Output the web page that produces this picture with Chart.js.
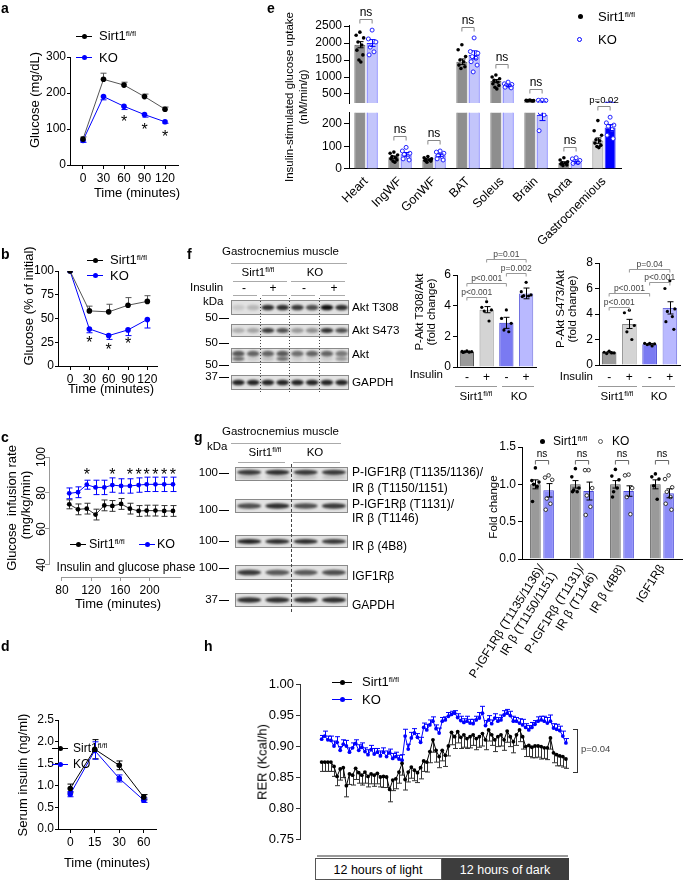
<!DOCTYPE html>
<html>
<head>
<meta charset="utf-8">
<script src="https://cdn.jsdelivr.net/npm/chart.js@4.4.0/dist/chart.umd.min.js"></script>
<style>
  body { margin: 0; width: 685px; height: 881px; position: relative; overflow: hidden; background: #fff;
         font-family: "Liberation Sans", Arial, sans-serif; }
  canvas.plein { position: absolute; left: 0; top: 0; }
  .t { position: absolute; white-space: nowrap; line-height: 1; color: #000; }
  sup { font-size: 62%; vertical-align: 0; position: relative; top: -0.55em; }
</style>
</head>
<body>
<script>
// === Données ===
// a : tolérance au glucose
const tA = [0, 30, 60, 90, 120];
const aSirt = [72, 238, 222, 190, 155];
const aSirtErr = [6, 17, 8, 7, 6];
const aKO = [68, 190, 163, 140, 120];
const aKOErr = [5, 9, 9, 7, 4];
const aTicksY = [0, 100, 200, 300];
const aStars = [60, 90, 120];

// b : tolérance à l'insuline
const tB = [0, 30, 60, 90, 120];
const bSirt = [100, 58, 57, 64, 68];
const bSirtErr = [0, 5, 8, 8, 6];
const bKO = [100, 39, 32, 38, 49];
const bKOErr = [0, 4, 4, 6, 9];
const bTicksY = [0, 25, 50, 75, 100];
const bStars = [30, 60, 90];

// c : clamp, débit de perfusion
const tC = [90, 102, 114, 126, 138, 149, 161, 173, 185, 196, 208, 220, 232];
const cSirt = [73.7, 70.9, 71.3, 68.0, 73.1, 72.8, 73.9, 71.3, 70.0, 70.2, 70.2, 70.0, 70.0];
const cSirtErr = [2.5, 3, 3, 3, 3, 3, 3, 3, 3, 3, 3, 3, 3];
const cKO = [79.8, 80.4, 84.6, 83.1, 83.1, 84.4, 83.9, 83.9, 84.4, 84.8, 84.8, 84.8, 84.8];
const cKOErr = [3, 3, 2.5, 4, 4, 4, 4, 4, 4, 4, 4, 4, 4];
const cTicksX = [80, 120, 160, 200];
const cTicksY = [40, 60, 80, 100];
const cStars = [114, 149, 173, 185, 196, 208, 220, 232];

// d : insuline sérique
const tD = ['0', '15', '30', '60'];
const dSirt = [0.93, 1.83, 1.46, 0.73];
const dSirtErr = [0.1, 0.22, 0.1, 0.06];
const dKO = [0.8, 1.8, 1.16, 0.66];
const dKOErr = [0.06, 0.2, 0.08, 0.05];
const dTicksY = [0, 0.5, 1.0, 1.5, 2.0, 2.5];

// e : captation du glucose
const eCats = ['Heart', 'IngWF', 'GonWF', 'BAT', 'Soleus', 'Brain', 'Aorta', 'Gastrocnemious'];
const eSirt = [1950, 52, 42, 1450, 880, 310, 28, 126];
const eKO = [2000, 65, 61, 1650, 740, 240, 30, 184];
const eSirtSem = [90, 6, 3, 80, 45, 10, 4, 12];
const eKOSem = [100, 8, 6, 120, 25, 25, 4, 13];
const eSirtDots = [
  [2320, 2230, 2150, 2030, 1940, 1790, 1650, 1500, 1440],
  [75, 70, 62, 55, 50, 45, 40, 35, 30],
  [55, 50, 45, 42, 40, 38, 35, 30],
  [1950, 1800, 1600, 1500, 1450, 1350, 1300, 1250],
  [1060, 1000, 950, 900, 850, 800, 750, 700, 650],
  [320, 315, 310, 305, 300, 300, 295],
  [50, 40, 32, 28, 25, 22, 18, 15],
  [215, 170, 150, 130, 125, 115, 105, 100, 95]
];
const eKODots = [
  [2380, 2120, 2030, 1880, 1740, 1650],
  [96, 80, 70, 65, 55, 45, 40],
  [80, 75, 70, 60, 55, 45, 40],
  [2150, 1750, 1700, 1600, 1550, 1450, 1350, 1150],
  [850, 800, 780, 750, 720, 700, 680],
  [320, 315, 310, 250, 240, 170],
  [50, 45, 38, 32, 28, 25],
  [230, 205, 195, 190, 175, 150, 135]
];
const eTicksHaut = [500, 1000, 1500, 2000, 2500];
const eTicksBas = [0, 100, 200];
const eStats = ['ns', 'ns', 'ns', 'ns', 'ns', 'ns', 'ns', 'p=0.02'];

// f : P-Akt
const fCats = ['-', '+', '-', '+'];
const f308 = [1.0, 3.74, 2.88, 4.8];
const f308Sem = [0.03, 0.2, 0.36, 0.35];
const f308Dots = [[1.05, 1.02, 1.0, 0.98, 0.97, 0.95], [4.26, 3.89, 3.72, 3.65, 3.0], [3.72, 3.17, 2.85, 2.41, 2.3], [5.52, 4.91, 4.7, 4.65, 4.63, 4.59]];
const f308Ticks = [0, 2, 4, 6];
const f473 = [1.0, 3.22, 1.63, 4.48];
const f473Sem = [0.05, 0.36, 0.06, 0.48];
const f473Dots = [[1.1, 1.0, 0.95, 0.9, 0.95], [4.3, 4.1, 3.1, 2.6, 2.0], [1.7, 1.7, 1.65, 1.6, 1.5], [6.6, 6.0, 4.4, 4.2, 3.8, 3.4, 2.8]];
const f473Ticks = [0, 2, 4, 6, 8];

// g : IGF1R / IR
const gCats = [['P-IGF1Rβ (T1135/1136)/', 'IR β (T1150/1151)'], ['P-IGF1Rβ (T1131)/', 'IR β (T1146)'], 'IR β (4B8)', 'IGF1Rβ'];
const gSirt = [1.0, 1.0, 1.0, 1.0];
const gSirtSem = [0.06, 0.05, 0.05, 0.06];
const gKO = [0.92, 0.91, 0.91, 0.88];
const gKOSem = [0.09, 0.12, 0.07, 0.06];
const gSirtDots = [[1.22, 1.05, 1.03, 1.0, 0.97, 0.77], [1.21, 1.1, 0.95, 0.92, 0.9, 0.9], [1.2, 1.11, 1.06, 0.9, 0.95, 0.83], [1.14, 1.1, 1.07, 0.98, 0.8]];
const gKODots = [[1.12, 1.09, 1.06, 0.81, 0.74, 0.66], [1.19, 1.19, 0.95, 0.85, 0.7, 0.59], [1.13, 1.12, 0.95, 0.83, 0.6], [1.12, 1.07, 0.96, 0.9, 0.83, 0.74, 0.66]];
const gTicks = [0, 0.5, 1.0, 1.5];

// h : RER sur 24 h
const hSirt = [
  0.874, 0.874, 0.874, 0.874, 0.867, 0.851, 0.863, 0.865, 0.836, 0.855,
  0.853, 0.864, 0.857, 0.853, 0.858, 0.851, 0.855, 0.853, 0.856, 0.850,
  0.851, 0.850, 0.830, 0.845, 0.847, 0.858, 0.872, 0.846, 0.858, 0.866,
  0.861, 0.857, 0.865, 0.876, 0.874, 0.891, 0.910, 0.893, 0.883, 0.893,
  0.885, 0.900, 0.922, 0.915, 0.923, 0.914, 0.918, 0.912, 0.915, 0.918,
  0.912, 0.915, 0.920, 0.910, 0.926, 0.918, 0.910, 0.915, 0.918, 0.910,
  0.924, 0.915, 0.907, 0.918, 0.926, 0.915, 0.899, 0.901, 0.898, 0.900,
  0.900, 0.899, 0.897, 0.897, 0.913, 0.889, 0.886, 0.884, 0.883, 0.879
];
const hSirtErr = [
  0.015, 0.015, 0.015, 0.015, 0.016, 0.015, 0.018, 0.016, 0.018, 0.017,
  0.016, 0.018, 0.017, 0.016, 0.018, 0.017, 0.016, 0.018, 0.017, 0.016,
  0.018, 0.017, 0.020, 0.017, 0.016, 0.018, 0.019, 0.017, 0.016, 0.018,
  0.017, 0.016, 0.018, 0.017, 0.016, 0.018, 0.020, 0.019, 0.018, 0.017,
  0.018, 0.016, 0.020, 0.019, 0.018, 0.018, 0.020, 0.016, 0.018, 0.017,
  0.018, 0.017, 0.020, 0.016, 0.018, 0.017, 0.019, 0.016, 0.018, 0.017,
  0.018, 0.016, 0.018, 0.017, 0.019, 0.020, 0.016, 0.018, 0.017, 0.019,
  0.018, 0.020, 0.017, 0.019, 0.018, 0.016, 0.018, 0.016, 0.017, 0.015
];
const hKO = [
  0.911, 0.916, 0.910, 0.909, 0.900, 0.906, 0.893, 0.903, 0.900, 0.890,
  0.897, 0.904, 0.893, 0.898, 0.891, 0.886, 0.894, 0.887, 0.890, 0.884,
  0.890, 0.883, 0.889, 0.880, 0.883, 0.879, 0.877, 0.916, 0.895, 0.913,
  0.921, 0.914, 0.906, 0.930, 0.926, 0.934, 0.940, 0.928, 0.921, 0.940,
  0.942, 0.948, 0.951, 0.953, 0.946, 0.941, 0.938, 0.940, 0.937, 0.936,
  0.942, 0.945, 0.953, 0.933, 0.942, 0.936, 0.945, 0.940, 0.942, 0.950,
  0.953, 0.949, 0.940, 0.940, 0.937, 0.934, 0.930, 0.926, 0.930, 0.935,
  0.940, 0.942, 0.940, 0.937, 0.940, 0.929, 0.927, 0.925, 0.916, 0.905
];
const hKOErr = [
  0.006, 0.008, 0.006, 0.007, 0.008, 0.009, 0.006, 0.007, 0.009, 0.007,
  0.008, 0.006, 0.009, 0.007, 0.006, 0.008, 0.007, 0.009, 0.006, 0.008,
  0.007, 0.009, 0.006, 0.008, 0.007, 0.006, 0.009, 0.011, 0.008, 0.009,
  0.007, 0.006, 0.008, 0.007, 0.009, 0.008, 0.007, 0.006, 0.008, 0.006,
  0.005, 0.006, 0.005, 0.004, 0.006, 0.007, 0.006, 0.008, 0.006, 0.007,
  0.006, 0.009, 0.011, 0.008, 0.007, 0.006, 0.007, 0.006, 0.008, 0.007,
  0.006, 0.007, 0.008, 0.006, 0.007, 0.009, 0.006, 0.007, 0.008, 0.006,
  0.007, 0.006, 0.008, 0.009, 0.010, 0.007, 0.008, 0.007, 0.008, 0.007
];
const hTicks = [0.75, 0.80, 0.85, 0.90, 0.95, 1.00];

// === Réglages ===
const W = 685, H = 881;
const POLICE = '"Liberation Sans", Arial, sans-serif';
const BLEU = '#0000ff';
Chart.defaults.font.family = POLICE;
Chart.defaults.font.size = 12;
Chart.defaults.color = '#000';
Chart.defaults.animation = false;
Chart.defaults.responsive = false;
Chart.defaults.devicePixelRatio = 1;
Chart.defaults.events = [];
Chart.defaults.plugins.legend.display = false;
Chart.defaults.plugins.tooltip.enabled = false;

const JIT = [0, -1, 1, -0.5, 0.5, -0.8, 0.8, -0.25, 0.25, -0.6];

// === Décorations : barres d'erreur, points, crochets, étoiles ===
function barresErreur(chart, genre) {
  const ctx = chart.ctx, a = chart.chartArea;
  const o = chart.options.plugins.deco || {};
  const p = o.clip ?? 6;
  ctx.save();
  ctx.beginPath(); ctx.rect(a.left - p, a.top - p, a.width + 2 * p, a.height + 2 * p); ctx.clip();
  chart.data.datasets.forEach((ds, di) => {
    if (!ds.err || (ds.type || chart.config.type) !== genre) return;
    const meta = chart.getDatasetMeta(di), ys = chart.scales[meta.yAxisID];
    ctx.strokeStyle = ds.errColor || ds.borderColor;
    ctx.lineWidth = 1;
    meta.data.forEach((el, i) => {
      const e = ds.err[i];
      if (!e) return;
      const d = ds.data[i], v = typeof d === 'object' ? d.y : d;
      const haut = ds.errDir !== 'down', bas = ds.errDir !== 'up';
      const x = Math.round(el.x) + 0.5, cw = ds.capW || 3;
      const y1 = haut ? ys.getPixelForValue(v + e) : el.y;
      const y2 = bas ? ys.getPixelForValue(v - e) : el.y;
      ctx.beginPath();
      ctx.moveTo(x, y1); ctx.lineTo(x, y2);
      if (haut) { ctx.moveTo(x - cw, y1); ctx.lineTo(x + cw, y1); }
      if (bas) { ctx.moveTo(x - cw, y2); ctx.lineTo(x + cw, y2); }
      ctx.stroke();
    });
  });
  ctx.restore();
}

function points(chart, o) {
  const ctx = chart.ctx, a = chart.chartArea, p = o.clip ?? 6;
  ctx.save();
  ctx.beginPath(); ctx.rect(a.left - p, a.top - p, a.width + 2 * p, a.height + 2 * p); ctx.clip();
  chart.data.datasets.forEach((ds, di) => {
    if (!ds.dots) return;
    const meta = chart.getDatasetMeta(di), ys = chart.scales[meta.yAxisID];
    meta.data.forEach((el, i) => {
      (ds.dots[i] || []).forEach((v, k) => {
        const x = el.x + JIT[k % JIT.length] * el.width * 0.34;
        ctx.beginPath();
        ctx.arc(x, ys.getPixelForValue(v), ds.dotR || 2, 0, Math.PI * 2);
        if (ds.dotFill) { ctx.fillStyle = ds.dotFill; ctx.fill(); }
        if (ds.dotStroke) { ctx.strokeStyle = ds.dotStroke; ctx.lineWidth = 1; ctx.stroke(); }
      });
    });
  });
  ctx.restore();
}

function crochets(chart, o) {
  if (!o.brackets) return;
  const ctx = chart.ctx, ys = chart.scales.y;
  ctx.save();
  ctx.lineWidth = 1;
  ctx.textAlign = 'center';
  ctx.textBaseline = 'bottom';
  o.brackets.forEach(b => {
    const ea = chart.getDatasetMeta(b.a[0]).data[b.a[1]];
    const eb = chart.getDatasetMeta(b.b[0]).data[b.b[1]];
    let py;
    if (b.y !== undefined) py = ys.getPixelForValue(b.y);
    else {
      const haut = Math.max(...[b.a, b.b].map(([d, i]) => Math.max(...chart.data.datasets[d].dots[i])));
      py = ys.getPixelForValue(haut) - (b.gap ?? 11);
    }
    py = Math.round(py) + 0.5;
    const h = o.tick ?? 4;
    ctx.strokeStyle = o.lineColor || '#888';
    ctx.beginPath();
    ctx.moveTo(ea.x, py + h); ctx.lineTo(ea.x, py); ctx.lineTo(eb.x, py); ctx.lineTo(eb.x, py + h);
    ctx.stroke();
    ctx.fillStyle = o.textColor || '#000';
    ctx.font = (b.size || o.size || 12) + 'px ' + POLICE;
    ctx.fillText(b.t, (ea.x + eb.x) / 2, py - 1);
  });
  ctx.restore();
}

function etoiles(chart, o) {
  if (!o.stars) return;
  const ctx = chart.ctx, s = o.stars;
  const meta = chart.getDatasetMeta(s.ds);
  ctx.save();
  ctx.fillStyle = '#000';
  ctx.font = '16px ' + POLICE;
  ctx.textAlign = 'center';
  ctx.textBaseline = 'middle';
  s.idx.forEach(i => {
    const el = meta.data[i];
    const py = s.y !== undefined ? chart.scales.y.getPixelForValue(s.y) : el.y + s.dy;
    ctx.fillText('*', el.x, py + 4);
  });
  ctx.restore();
}

function axes(chart, o) {
  if (!o.axes) return;
  const ctx = chart.ctx, { x, y } = chart.scales, a = chart.chartArea;
  ctx.save();
  ctx.strokeStyle = o.axes.color || '#000';
  ctx.lineWidth = 1;
  ctx.beginPath();
  if (o.axes.y) { ctx.moveTo(a.left + 0.5, y.getPixelForValue(o.axes.y[0])); ctx.lineTo(a.left + 0.5, y.getPixelForValue(o.axes.y[1])); }
  if (o.axes.x) { ctx.moveTo(x.getPixelForValue(o.axes.x[0]), a.bottom + 0.5); ctx.lineTo(x.getPixelForValue(o.axes.x[1]), a.bottom + 0.5); }
  ctx.stroke();
  ctx.restore();
}

Chart.register({
  id: 'deco',
  beforeDatasetsDraw(chart) { barresErreur(chart, 'line'); },
  afterDatasetsDraw(chart, args, o) {
    points(chart, o);
    barresErreur(chart, 'bar');
    crochets(chart, o);
    etoiles(chart, o);
    axes(chart, o);
  }
});

// === Outils de mise en page ===
function canvasPlein() {
  const c = document.createElement('canvas');
  c.width = W; c.height = H;
  c.className = 'plein';
  document.body.appendChild(c);
  return c;
}

// zone du graphique en coordonnées de page (yW : largeur de l'axe Y, xH : hauteur de l'axe X)
function zone(l, t, r, b, yW, xH) {
  return { padding: { left: l - yW, top: t, right: W - r, bottom: H - b - xH } };
}

function echelle(o) {
  const cat = o.type === 'category';
  return {
    type: o.type || 'linear',
    display: o.display !== false,
    min: o.min, max: o.max,
    offset: o.offset ?? cat,
    afterFit: s => { if (s.isHorizontal()) s.height = o.size; else s.width = o.size; },
    afterBuildTicks: o.ticks ? (s => { s.ticks = o.ticks.map(v => ({ value: v })); }) : undefined,
    grid: { drawOnChartArea: false, drawTicks: o.tickLen !== 0, tickLength: o.tickLen ?? 4, color: o.color || '#000', offset: false },
    border: { display: o.border !== false, color: o.color || '#000', width: 1 },
    ticks: {
      font: { size: o.font || 12 }, color: '#000', padding: o.pad ?? 2, autoSkip: false,
      minRotation: o.rot || 0, maxRotation: o.rot || 0, crossAlign: o.cross || 'near',
      callback: cat ? function (v) { return this.getLabelForValue(v); } : (o.fmt || (v => String(v)))
    }
  };
}

function ligne(xs, ys, err, dir, couleur, trait, r) {
  return {
    data: xs.map((x, i) => ({ x, y: ys[i] })),
    err, errDir: dir, errColor: trait,
    borderColor: trait, borderWidth: 1,
    pointBackgroundColor: couleur, pointBorderColor: couleur, pointRadius: r || 2.8, pointBorderWidth: 0
  };
}

function graphique(cfg) { return new Chart(canvasPlein(), cfg); }

function texte(html, x, y, o = {}) {
  const d = document.createElement('div');
  d.className = 't';
  d.innerHTML = html;
  d.style.left = x + 'px';
  d.style.top = y + 'px';
  d.style.fontSize = (o.size || 13) + 'px';
  if (o.color) d.style.color = o.color;
  if (o.bold) d.style.fontWeight = 'bold';
  const ax = o.align === 'l' ? '0' : o.align === 'r' ? '-100%' : '-50%';
  d.style.transform = `translate(${ax},-50%)` + (o.rot ? ` rotate(${o.rot}deg)` : '');
  document.body.appendChild(d);
  return d;
}

function trait(x, y, w, h, col) {
  const d = document.createElement('div');
  d.style.cssText = `position:absolute;left:${x}px;top:${y}px;width:${w}px;height:${h}px;background:${col}`;
  document.body.appendChild(d);
}

function marque(x, y, col, type, len) {
  if (type === 'ligne') trait(x - len / 2, y, len, 1, col);
  const r = 2.5;
  const d = document.createElement('div');
  d.style.cssText = `position:absolute;left:${x - r}px;top:${y - r + 0.5}px;width:${2 * r}px;height:${2 * r}px;border-radius:50%;box-sizing:border-box;` +
    (type === 'cercle' ? `border:1px solid ${col};background:#fff` : `background:${col}`);
  document.body.appendChild(d);
}

const FL = 'Sirt1<sup>fl/fl</sup>';

// === Western blots (images, pas des données) ===
const fond = canvasPlein();
const bctx = fond.getContext('2d');
function buvard(x, y, w, h, bandes, bas) {
  bctx.fillStyle = '#e2e2e2';
  bctx.fillRect(x, y, w, h);
  bctx.strokeStyle = '#8a8a8a';
  bctx.lineWidth = 1;
  bctx.strokeRect(x + 0.5, y + 0.5, w - 1, h - 1);
  const lw = w / bandes.length;
  bctx.save();
  bctx.filter = 'blur(1.1px)';
  bandes.forEach((v, i) => {
    bctx.fillStyle = `rgba(15,15,15,${v})`;
    bctx.beginPath();
    bctx.ellipse(x + lw * (i + 0.5), y + h * (bas ? 0.38 : 0.5), lw * 0.43, h * 0.19, 0, 0, Math.PI * 2);
    bctx.fill();
    if (bas && bas[i]) {
      bctx.fillStyle = `rgba(15,15,15,${bas[i]})`;
      bctx.beginPath();
      bctx.ellipse(x + lw * (i + 0.5), y + h * 0.72, lw * 0.43, h * 0.14, 0, 0, Math.PI * 2);
      bctx.fill();
    }
  });
  bctx.restore();
}
function pointilles(x, y1, y2, motif) {
  bctx.save();
  bctx.strokeStyle = '#444';
  bctx.setLineDash(motif);
  bctx.beginPath(); bctx.moveTo(x + 0.5, y1); bctx.lineTo(x + 0.5, y2); bctx.stroke();
  bctx.restore();
}
// f
buvard(231, 300, 118, 15, [0.12, 0.2, 0.85, 0.85, 0.8, 0.7, 1, 0.85]);
buvard(231, 324, 118, 13, [0.25, 0.3, 0.8, 0.7, 0.35, 0.4, 0.85, 0.7]);
buvard(231, 348, 118, 15, [0.65, 0.6, 0.6, 0.65, 0.55, 0.6, 0.6, 0.5], [0.55, 0.1, 0.15, 0.55, 0.1, 0.1, 0.1, 0.35]);
buvard(231, 375, 118, 15, [0.9, 0.9, 0.9, 0.9, 0.9, 0.9, 0.9, 0.9]);
[260, 289, 319].forEach(x => pointilles(x, 298, 392, [1, 2]));
// g
buvard(235, 467, 113, 14, [0.8, 0.85, 0.8, 0.8], [0.15, 0.15, 0.15, 0.15]);
buvard(235, 499, 113, 14, [0.7, 0.85, 0.7, 0.8]);
buvard(235, 535, 113, 13, [0.9, 0.85, 0.85, 0.8]);
buvard(235, 565, 113, 15, [0.8, 0.65, 0.65, 0.7]);
buvard(235, 593, 113, 14, [0.85, 0.85, 0.85, 0.85]);
pointilles(291, 464, 612, [3, 2]);

// === a ===
graphique({
  type: 'line',
  data: { datasets: [
    ligne(tA, aSirt, aSirtErr, 'up', '#000', '#555'),
    ligne(tA, aKO, aKOErr, 'down', BLEU, BLEU)
  ] },
  options: {
    layout: zone(70, 57, 178, 165, 40, 30),
    scales: {
      x: echelle({ min: -19, max: 139, ticks: tA, size: 30, font: 12, tickLen: 4 }),
      y: echelle({ min: 0, max: 300, ticks: aTicksY, size: 40, font: 12, tickLen: 3, pad: 1 })
    },
    plugins: { deco: { stars: { ds: 1, idx: aStars.map(t => tA.indexOf(t)), dy: 12 } } }
  }
});

// === b ===
graphique({
  type: 'line',
  data: { datasets: [
    ligne(tB, bSirt, bSirtErr, 'up', '#000', '#555'),
    ligne(tB, bKO, bKOErr, 'down', BLEU, BLEU)
  ] },
  options: {
    layout: zone(58, 271, 157, 366, 40, 30),
    scales: {
      x: echelle({ min: -18.7, max: 135, ticks: tB, size: 30, font: 12 }),
      y: echelle({ min: 0, max: 100, ticks: bTicksY, size: 40, font: 12, tickLen: 3, pad: 1 })
    },
    plugins: { deco: { stars: { ds: 1, idx: bStars.map(t => tB.indexOf(t)), dy: 11 } } }
  }
});

// === c ===
graphique({
  type: 'line',
  data: { datasets: [
    ligne(tC, cSirt, cSirtErr, 'both', '#000', '#333', 2.4),
    ligne(tC, cKO, cKOErr, 'both', BLEU, BLEU, 2.4)
  ] },
  options: {
    layout: zone(49, 457, 181, 577, 30, 30),
    scales: {
      x: echelle({ min: 62.3, max: 243, ticks: cTicksX, size: 30, font: 12, border: false, color: '#999' }),
      y: echelle({ min: 33.3, max: 100, ticks: cTicksY, size: 30, font: 12, border: false, color: '#999', rot: 90, cross: 'center', pad: -7 })
    },
    plugins: { deco: { stars: { ds: 1, idx: cStars.map(t => tC.indexOf(t)), y: 92 }, axes: { x: [80, 243], y: [40, 100], color: '#999' } } }
  }
});

// === d ===
graphique({
  type: 'line',
  data: { labels: tD, datasets: [
    { ...ligne([0, 1, 2, 3], dSirt, dSirtErr, 'both', '#000', '#000'), data: dSirt },
    { ...ligne([0, 1, 2, 3], dKO, dKOErr, 'both', BLEU, BLEU), data: dKO }
  ] },
  options: {
    layout: zone(58, 720, 156, 829, 40, 30),
    scales: {
      x: echelle({ type: 'category', offset: true, size: 30, font: 12, tickLen: 4 }),
      y: echelle({ min: 0, max: 2.5, ticks: dTicksY, size: 40, font: 12, tickLen: 3, pad: 1, fmt: v => v.toFixed(1) })
    }
  }
});

// === e (axe coupé : deux graphiques) ===
const eSirtFond = eCats.map((c, i) => i === 7 ? '#d6d6d6' : '#8e8e8e');
const eSirtBord = eCats.map((c, i) => i === 7 ? '#777' : '#555');
const eKOFond = eCats.map((c, i) => i === 7 ? BLEU : '#c3c5fb');
function jeuxE() {
  return [
    { data: eSirt, backgroundColor: eSirtFond, borderColor: eSirtBord, borderWidth: 1, clip: 0,
      err: eSirtSem, errColor: '#000', dots: eSirtDots, dotFill: '#000', dotR: 1.8,
      categoryPercentage: 0.72, barPercentage: 0.9 },
    { data: eKO, backgroundColor: eKOFond, borderColor: '#2b2bff', borderWidth: 1, clip: 0,
      err: eKOSem, errColor: BLEU, dots: eKODots, dotFill: '#fff', dotStroke: '#2020ff', dotR: 2,
      categoryPercentage: 0.72, barPercentage: 0.9 }
  ];
}
const crochetsE = (liste) => liste.map(i => ({ a: [0, i], b: [1, i], t: eStats[i], size: eStats[i] === 'ns' ? 12 : 9.5 }));
graphique({
  type: 'bar',
  data: { labels: eCats, datasets: jeuxE() },
  options: {
    layout: zone(349, 25, 621, 103, 45, 0),
    scales: {
      x: { display: false, offset: true },
      y: echelle({ min: 235, max: 2530, ticks: eTicksHaut, size: 45, font: 12, tickLen: 5, pad: 2 })
    },
    plugins: { deco: { clip: 0, brackets: crochetsE([0, 3, 4, 5]) } }
  }
});
graphique({
  type: 'bar',
  data: { labels: eCats, datasets: jeuxE() },
  options: {
    layout: zone(349, 112.7, 621, 169, 45, 85),
    scales: {
      x: echelle({ type: 'category', size: 85, font: 12.5, tickLen: 0, rot: 45, pad: 5 }),
      y: echelle({ min: 0, max: 250, ticks: eTicksBas, size: 45, font: 12, tickLen: 5, pad: 2 })
    },
    plugins: { deco: { clip: 0, brackets: crochetsE([1, 2, 6, 7]) } }
  }
});

// === f ===
const fFond = ['#9a9a9a', '#d4d4d4', '#7a7af2', '#b9b9ff'];
const fBord = ['#555', '#888', '#3a3ad0', '#7070e0'];
function barresF(vals, sem, dots) {
  return [{ data: vals, backgroundColor: fFond, borderColor: fBord, borderWidth: 1,
    err: sem, errColor: '#000', dots, dotFill: '#000', dotR: 1.6,
    categoryPercentage: 1, barPercentage: 0.72 }];
}
const styleP = { size: 8.5, textColor: '#444', lineColor: '#999', tick: 3 };
graphique({
  type: 'bar',
  data: { labels: fCats, datasets: barresF(f308, f308Sem, f308Dots) },
  options: {
    layout: zone(457, 275, 536, 367, 40, 20),
    scales: {
      x: echelle({ type: 'category', size: 20, font: 12, tickLen: 0, pad: 3 }),
      y: echelle({ min: 0, max: 6, ticks: f308Ticks, size: 40, font: 12, tickLen: 4, pad: 2 })
    },
    plugins: { deco: { ...styleP, brackets: [
      { a: [0, 0], b: [0, 1], y: 4.59, t: 'p<0.001' },
      { a: [0, 0], b: [0, 2], y: 5.46, t: 'p<0.001' },
      { a: [0, 2], b: [0, 3], y: 6.11, t: 'p=0.002' },
      { a: [0, 1], b: [0, 3], y: 7.04, t: 'p=0.01' }
    ] } }
  }
});
graphique({
  type: 'bar',
  data: { labels: fCats, datasets: barresF(f473, f473Sem, f473Dots) },
  options: {
    layout: zone(599, 263, 680, 365, 40, 20),
    scales: {
      x: echelle({ type: 'category', size: 20, font: 12, tickLen: 0, pad: 5 }),
      y: echelle({ min: 0, max: 8, ticks: f473Ticks, size: 40, font: 12, tickLen: 4, pad: 2 })
    },
    plugins: { deco: { ...styleP, brackets: [
      { a: [0, 0], b: [0, 1], y: 4.55, t: 'p<0.001' },
      { a: [0, 0], b: [0, 2], y: 5.65, t: 'p<0.001' },
      { a: [0, 2], b: [0, 3], y: 6.5, t: 'p<0.001' },
      { a: [0, 1], b: [0, 3], y: 7.53, t: 'p=0.04' }
    ] } }
  }
});

// === g ===
graphique({
  type: 'bar',
  data: { labels: gCats, datasets: [
    { data: gSirt, backgroundColor: '#9a9a9a', borderColor: '#555', borderWidth: 1,
      err: gSirtSem, errColor: '#000', dots: gSirtDots, dotFill: '#000', dotR: 1.8,
      categoryPercentage: 0.66, barPercentage: 0.8 },
    { data: gKO, backgroundColor: '#8c8cf7', borderColor: '#4a4ad8', borderWidth: 1,
      err: gKOSem, errColor: '#000', dots: gKODots, dotFill: '#fff', dotStroke: '#333', dotR: 1.8,
      categoryPercentage: 0.66, barPercentage: 0.8 }
  ] },
  options: {
    layout: zone(522, 447, 682, 559, 40, 170),
    scales: {
      x: echelle({ type: 'category', size: 170, font: 12, tickLen: 0, rot: 58, pad: 3 }),
      y: echelle({ min: 0, max: 1.5, ticks: gTicks, size: 40, font: 12, tickLen: 4, pad: 2, fmt: v => v.toFixed(1) })
    },
    plugins: { deco: { size: 10, tick: 4, lineColor: '#666', brackets: [0, 1, 2, 3].map(i => ({ a: [0, i], b: [1, i], y: 1.325, t: 'ns' })) } }
  }
});

// === h ===
const hIdx = hSirt.map((v, i) => i);
graphique({
  type: 'line',
  data: { datasets: [
    { ...ligne(hIdx, hSirt, hSirtErr, 'down', '#000', '#000', 1.9), errColor: '#333', capW: 2.5 },
    { ...ligne(hIdx, hKO, hKOErr, 'up', BLEU, BLEU, 1.9), capW: 2.5 }
  ] },
  options: {
    layout: zone(300, 684, 569, 839, 45, 0),
    scales: {
      x: { type: 'linear', display: false, min: -7, max: 80 },
      y: echelle({ min: 0.75, max: 1.0, ticks: hTicks, size: 45, font: 13, tickLen: 4, pad: 2, color: '#333', fmt: v => v.toFixed(2) })
    },
    plugins: { deco: { clip: 10 } }
  }
});

// === Textes ===
// lettres des panneaux
[['a', 1, 8], ['b', 1, 254], ['c', 1, 437], ['d', 1, 646], ['e', 267, 8], ['f', 187, 254], ['g', 194, 437], ['h', 204, 646]]
  .forEach(([l, x, y]) => texte(l, x, y, { align: 'l', size: 14, bold: true }));

// a
marque(84, 36, '#000', 'ligne', 16); texte(FL, 99, 36, { align: 'l' });
marque(84, 57, BLEU, 'ligne', 16); texte('KO', 99, 57, { align: 'l' });
texte('Glucose (mg/dL)', 34, 100, { rot: -90 });
texte('Time (minutes)', 137, 192);

// b
marque(95, 260, '#000', 'ligne', 16); texte(FL, 110, 260, { align: 'l' });
marque(95, 275, BLEU, 'ligne', 16); texte('KO', 110, 275, { align: 'l' });
texte('Glucose (% of initial)', 28, 306, { rot: -90 });
texte('Time (minutes)', 111, 388);

// c
texte('Glucose &nbsp;infusion rate', 11, 508, { rot: -90 });
texte('(mg/kg/min)', 25, 505, { rot: -90 });
marque(78, 544, '#000', 'ligne', 16); texte(FL, 89, 544, { align: 'l', size: 12.5 });
marque(147, 544, BLEU, 'ligne', 16); texte('KO', 157, 544, { align: 'l', size: 12.5 });
texte('Insulin and glucose phase', 126, 567, { size: 12 });
texte('Time (minutes)', 118, 603);

// d
marque(60, 748, '#000', 'ligne', 16); texte(FL, 73, 748, { align: 'l', size: 12 });
marque(60, 764, BLEU, 'ligne', 16); texte('KO', 73, 764, { align: 'l', size: 12 });
texte('Serum insulin (ng/ml)', 22, 775, { rot: -90 });
texte('Time (minutes)', 107, 862);

// e
texte('Insulin-stimulated glucose uptake', 290, 97, { rot: -90, size: 11.5 });
texte('(nM/min/g)', 304, 97, { rot: -90, size: 11.5 });
marque(580, 16, '#000', 'point'); texte(FL, 598, 17, { align: 'l' });
marque(579, 39, BLEU, 'cercle'); texte('KO', 598, 39, { align: 'l' });

// f
texte('Gastrocnemius muscle', 222, 252, { align: 'l', size: 11.5 });
trait(231, 263, 116, 1, '#aaa');
texte(FL, 258, 273, { size: 11.5 }); texte('KO', 315, 273, { size: 11.5 });
trait(233, 281, 54, 1, '#aaa'); trait(291, 281, 54, 1, '#aaa');
texte('Insulin', 190, 288, { align: 'l', size: 11.5 });
[[244, '-'], [273, '+'], [304, '-'], [334, '+']].forEach(([x, s]) => texte(s, x, 288, { size: 12 }));
[[233, 24], [262, 25], [291, 24], [320, 25]].forEach(([x, w]) => trait(x, 295, w, 1, '#aaa'));
texte('kDa', 203, 302, { align: 'l', size: 11.5 });
[[318, '50'], [343, '50'], [365, '50'], [377, '37']].forEach(([y, s]) => { texte(s, 218, y, { align: 'r', size: 11.5 }); trait(219, y, 10, 1, '#000'); });
[['Akt T308', 307], ['Akt S473', 330], ['Akt', 354], ['GAPDH', 382]].forEach(([s, y]) => texte(s, 352, y, { align: 'l', size: 11.7 }));
texte('P-Akt T308/Akt', 420, 312, { rot: -90, size: 11.5 });
texte('(fold change)', 432, 312, { rot: -90, size: 11.5 });
texte('Insulin', 443, 375, { align: 'r', size: 11.5 });
trait(455, 386, 42, 1, '#999'); trait(502, 386, 32, 1, '#999');
texte(FL, 476, 397, { size: 11.5 }); texte('KO', 519, 397, { size: 11.5 });
texte('P-Akt S473/Akt', 561, 309, { rot: -90, size: 11.5 });
texte('(fold change)', 573, 309, { rot: -90, size: 11.5 });
texte('Insulin', 593, 377, { align: 'r', size: 11.5 });
trait(598, 386, 39, 1, '#999'); trait(642, 386, 33, 1, '#999');
texte(FL, 617, 397, { size: 11.5 }); texte('KO', 659, 397, { size: 11.5 });

// g
texte('Gastrocnemius muscle', 222, 432, { align: 'l', size: 11.5 });
trait(231, 443, 110, 1, '#aaa');
texte(FL, 265, 453, { size: 11.5 }); texte('KO', 315, 453, { size: 11.5 });
trait(238, 462, 47, 1, '#aaa'); trait(293, 462, 47, 1, '#aaa');
texte('kDa', 207, 447, { align: 'l', size: 11.5 });
[[473, '100'], [510, '100'], [541, '100'], [568, '100'], [600, '37']].forEach(([y, s]) => { texte(s, 218, y, { align: 'r', size: 11.5 }); trait(219, y, 10, 1, '#000'); });
[['P-IGF1Rβ (T1135/1136)/', 472], ['IR β (T1150/1151)', 488], ['P-IGF1Rβ (T1131)/', 504], ['IR β (T1146)', 518],
 ['IR β (4B8)', 546], ['IGF1Rβ', 576], ['GAPDH', 605]].forEach(([s, y]) => texte(s, 352, y, { align: 'l', size: 12 }));
marque(542, 441, '#000', 'point'); texte(FL, 553, 441, { align: 'l', size: 12 });
marque(600, 441, '#555', 'cercle'); texte('KO', 612, 441, { align: 'l', size: 12 });
texte('Fold change', 494, 507, { rot: -90, size: 11.5 });

// h
marque(342, 682, '#000', 'ligne', 20); texte(FL, 362, 682, { align: 'l' });
marque(342, 699, BLEU, 'ligne', 20); texte('KO', 362, 699, { align: 'l' });
texte('RER (Kcal/h)', 262, 762, { rot: -90 });
trait(317, 855, 251, 2, '#999');
const boiteJour = document.createElement('div');
boiteJour.style.cssText = 'position:absolute;left:315px;top:858px;width:127px;height:22px;box-sizing:border-box;border:1px solid #555;background:#fff';
document.body.appendChild(boiteJour);
const boiteNuit = document.createElement('div');
boiteNuit.style.cssText = 'position:absolute;left:442px;top:858px;width:127px;height:22px;background:#3d3d3d';
document.body.appendChild(boiteNuit);
texte('12 hours of light', 378, 870, { size: 12.5 });
texte('12 hours of dark', 505, 870, { size: 12.5, color: '#fff' });
trait(573, 729, 5, 1, '#333'); trait(577, 729, 1, 44, '#333'); trait(573, 772, 5, 1, '#333');
texte('p=0.04', 581, 749, { align: 'l', size: 9.5, color: '#444' });
</script>
</body>
</html>
